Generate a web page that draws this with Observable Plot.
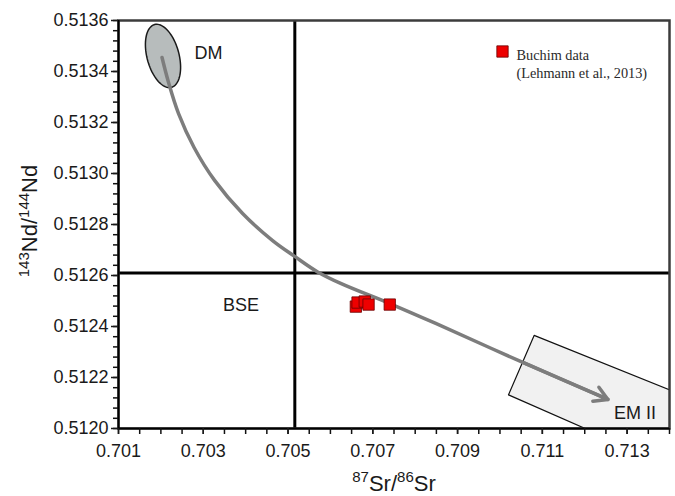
<!DOCTYPE html>
<html><head><meta charset="utf-8">
<script src="https://cdn.jsdelivr.net/npm/d3@7"></script>
<script src="https://cdn.jsdelivr.net/npm/@observablehq/plot@0.6"></script>
<style>body{margin:0;background:#fff}#chart svg{display:block}</style>
</head><body><div id="chart"></div>
<script>
// Buchim data (Lehmann et al., 2013)
const buchimSr = [0.70660, 0.70664, 0.70681, 0.70690, 0.70740];
const buchimNd = [0.512478, 0.512494, 0.512498, 0.512486, 0.512486];

// mixing curve DM -> EM II
const curveSr = [0.702027, 0.702181, 0.702417, 0.702783, 0.703267, 0.703928, 0.704636, 0.705156, 0.705699, 0.706242, 0.707399, 0.708485, 0.710540, 0.712547];
const curveNd = [0.513455, 0.513357, 0.513235, 0.513102, 0.512973, 0.512843, 0.512737, 0.512675, 0.512614, 0.512569, 0.512490, 0.512412, 0.512259, 0.512114];

// DM field centre
const dmSr = [0.70205];
const dmNd = [0.513461];

// EM II field corners
const emSr = [0.710806, 0.716159, 0.715569, 0.710202];
const emNd = [0.512365, 0.512007, 0.511740, 0.512132];

// BSE reference values
const bseSr = [0.70516];
const bseNd = [0.51261];

// field labels
const labelNames = ["DM", "BSE", "EM II"];
const labelSr = [0.703125, 0.703893, 0.713184];
const labelNd = [0.513471, 0.512482, 0.512059];

// tick labels
const xTickLabels = [0.701, 0.703, 0.705, 0.707, 0.709, 0.711, 0.713];
const yTickLabels = [0.5120, 0.5122, 0.5124, 0.5126, 0.5128, 0.5130, 0.5132, 0.5134, 0.5136];
const xMinor = d3.range(0, 27).map(i => 0.701 + i * 0.0005);
const yMinor = d3.range(0, 41).map(i => 0.5120 + i * 0.00004);

const idx = a => a.map((_, i) => i);

const ellipseSymbol = {
  draw(ctx) {
    const a = 32.5, b = 16, phi = 15 * Math.PI / 180;
    const ux = Math.sin(phi), uy = Math.cos(phi);
    const vx = Math.cos(phi), vy = -Math.sin(phi);
    for (let i = 0; i <= 90; i++) {
      const t = i / 90 * 2 * Math.PI;
      const px = a * Math.cos(t) * ux + b * Math.sin(t) * vx;
      const py = a * Math.cos(t) * uy + b * Math.sin(t) * vy;
      if (i) ctx.lineTo(px, py); else ctx.moveTo(px, py);
    }
    ctx.closePath();
  }
};

const gray = "#7d7d7d";
const n = curveSr.length;

const chart = Plot.plot({
  width: 675,
  height: 496,
  marginLeft: 118,
  marginRight: 6,
  marginTop: 20,
  marginBottom: 68,
  style: {fontFamily: "'Liberation Sans', Arial, sans-serif", fontSize: "18px", background: "#fff"},
  x: {domain: [0.701, 0.714], label: null},
  y: {domain: [0.5120, 0.5136], label: null},
  marks: [
    Plot.line(idx(emSr), {x: i => emSr[i], y: i => emNd[i], curve: "linear-closed", fill: "#f1f1f1", stroke: "#111", strokeWidth: 1.2, clip: true}),
    Plot.ruleX(bseSr, {stroke: "#000", strokeWidth: 3}),
    Plot.ruleY(bseNd, {stroke: "#000", strokeWidth: 3}),
    Plot.frame({stroke: "#3c3c3c", strokeWidth: 2.5}),
    Plot.ruleX([0.701], {stroke: "#000", strokeWidth: 2}),
    Plot.ruleY([0.5120], {stroke: "#000", strokeWidth: 2}),
    Plot.axisX(xMinor, {tickSize: 6, tickFormat: () => "", strokeWidth: 1.5, color: "#111", label: null}),
    Plot.axisX(xTickLabels, {tickSize: 6, tickPadding: 10, tickFormat: d3.format(".3f"), strokeWidth: 1.5, color: "#1a1a1a", label: null}),
    Plot.axisY(yMinor, {tickSize: 5, tickFormat: () => "", strokeWidth: 1.5, color: "#111", label: null}),
    Plot.axisY(yTickLabels, {tickSize: 7, tickPadding: 3, tickFormat: d3.format(".4f"), strokeWidth: 1.5, color: "#1a1a1a", label: null}),
    Plot.dot(idx(dmSr), {x: i => dmSr[i], y: i => dmNd[i], symbol: ellipseSymbol, r: 10, fill: "#b7bcbc", stroke: "#1a1a1a", strokeWidth: 1.5}),
    Plot.line(idx(curveSr), {x: i => curveSr[i], y: i => curveNd[i], curve: "catmull-rom", stroke: gray, strokeWidth: 3.5}),
    Plot.arrow([n - 1], {x1: i => curveSr[i - 1], y1: i => curveNd[i - 1], x2: i => curveSr[i], y2: i => curveNd[i], stroke: gray, strokeWidth: 3.5, headLength: 6.5, headAngle: 60}),
    Plot.dot(idx(buchimSr), {x: i => buchimSr[i], y: i => buchimNd[i], symbol: "square", r: 6.4, fill: "#ee0000", stroke: "#6a0000", strokeWidth: 0.8}),
    Plot.text(idx(labelNames), {x: i => labelSr[i], y: i => labelNd[i], text: i => labelNames[i], fontSize: 18, fill: "#1a1a1a"}),
    // legend
    Plot.dot([0], {frameAnchor: "top-left", dx: 384, dy: 31, symbol: "square", r: 6.4, fill: "#ee0000", stroke: "#6a0000", strokeWidth: 0.8}),
    Plot.text(["Buchim data\n(Lehmann et al., 2013)"], {frameAnchor: "top-left", dx: 398, dy: 27, text: d => d, textAnchor: "start", lineAnchor: "top", lineHeight: 1.24, fontFamily: "'Liberation Serif', 'Times New Roman', serif", fontSize: 14.3, fill: "#2a2a2a"})
  ]
});

const svg = d3.select(chart);
// y axis title with superscripts
const yt = svg.append("text")
  .attr("transform", "translate(37,221) rotate(-90)")
  .attr("text-anchor", "middle")
  .attr("fill", "#1a1a1a")
  .style("font-size", "22px");
yt.append("tspan").attr("font-size", 15).attr("dy", -8).text("143");
yt.append("tspan").attr("dy", 8).text("Nd/");
yt.append("tspan").attr("font-size", 15).attr("dy", -8).text("144");
yt.append("tspan").attr("dy", 8).text("Nd");

// x axis title with superscripts
const xt = svg.append("text")
  .attr("transform", "translate(394,491)")
  .attr("text-anchor", "middle")
  .attr("fill", "#1a1a1a")
  .style("font-size", "22px");
xt.append("tspan").attr("font-size", 15).attr("dy", -9).text("87");
xt.append("tspan").attr("dy", 9).text("Sr/");
xt.append("tspan").attr("font-size", 15).attr("dy", -9).text("86");
xt.append("tspan").attr("dy", 9).text("Sr");

document.getElementById("chart").appendChild(chart);
</script>
</body></html>
